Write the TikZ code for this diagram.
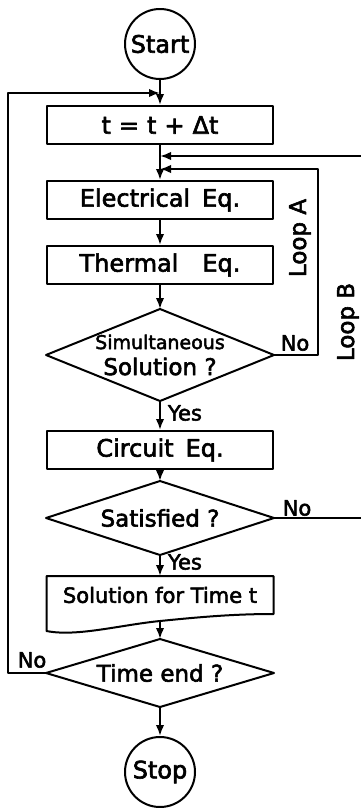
\documentclass[tikz,border=0pt]{standalone}
\usepackage{fontspec}
\setmainfont{DejaVu Sans}[FakeBold=2.5]
\usetikzlibrary{arrows.meta}

\tikzset{
  terminal/.style={draw, circle, minimum size=70pt, inner sep=0pt},
  process/.style={draw, rectangle, minimum width=226pt, minimum height=38pt, inner sep=0pt},
  decision/.style={rectangle, minimum width=226pt, inner sep=0pt,
    font=\fontsize{23}{26}\selectfont, align=center},
  docbox/.style={rectangle, minimum width=225pt, minimum height=36pt, inner sep=0pt,
    font=\fontsize{21}{24}\selectfont},
  lbl/.style={inner sep=0pt, font=\fontsize{21}{24}\selectfont},
  looplbl/.style={inner sep=0pt, rotate=90, font=\fontsize{23}{26}\selectfont},
}

\begin{document}
\begin{tikzpicture}[x=1pt,y=-1pt,line width=2pt,line cap=round,line join=round,
  >={Latex[length=11pt,width=8.5pt]},font=\fontsize{24}{28}\selectfont]
  \useasboundingbox (0,0) rectangle (361,808);

  % main column
  \node[terminal] (start) at (160,44) {Start};
  \node[process] (tstep) at (160,125) {t\,\,=\,\,t\,\,+\,\,Δt};
  \node[process] (elec) at (160,200) {Electrical\enspace Eq.};
  \node[process] (therm) at (160,265) {Thermal\quad Eq.};
  \node[decision, minimum height=90pt] (simul) at (160,355)
    {{\fontsize{19}{22}\selectfont Simultaneous}\\Solution ?};
  \node[process] (circ) at (160,450) {Circuit\enspace Eq.};
  \node[decision, minimum height=72pt] (satis) at (160,518) {Satisfied ?};
  \node[docbox] (sol) at (160,595) {Solution for Time t};
  \node[decision, minimum height=66pt] (tend) at (160,673) {Time end ?};
  \node[terminal] (stop) at (160,772) {Stop};

  % diamonds and the output sheet
  \foreach \d in {simul,satis,tend}
    \draw (\d.north) -- (\d.east) -- (\d.south) -- (\d.west) -- cycle;
  \draw (sol.south east) -- (sol.north east) -- (sol.north west)
    -- ([yshift=-17pt]sol.south west)
    .. controls +(30,6) and +(-40,4) .. ([yshift=-7pt]sol.south)
    .. controls +(40,-4) and +(-40,0) .. (sol.south east);

  % junctions on the main line
  \coordinate (jB) at (160,93);
  \coordinate (jBB) at (160,156);
  \coordinate (jA) at (160,169);

  \draw[->] (start) -- (tstep);
  \draw[->] (tstep) -- (elec);
  \draw[->] (elec) -- (therm);
  \draw[->] (therm) -- (simul);
  \draw[->] (simul) -- (circ);
  \draw[->] (circ) -- (satis);
  \draw[->] (satis) -- (sol);
  \draw[->] ([yshift=-7pt]sol.south) -- (tend);
  \draw[->] (tend) -- (stop);

  % loops
  \draw[->] (simul.east) -- ++(44,0) |- (jA);
  \draw[->] (satis.east) -- ++(92,0) |- (jBB);
  \draw[->] (tend.west) -- ++(-38,0) |- (jB);

  \node[lbl, anchor=west] (yes1) at (167,413) {Yes};
  \node[lbl] (no1) at (295,343) {No};
  \node[lbl] (no2) at (297,508) {No};
  \node[lbl, anchor=west] (yes2) at (167,562) {Yes};
  \node[lbl] (no3) at (32,660) {No};
  \node[looplbl] (loopA) at (300,238) {Loop A};
  \node[looplbl] (loopB) at (348,322) {Loop B};
\end{tikzpicture}
\end{document}
